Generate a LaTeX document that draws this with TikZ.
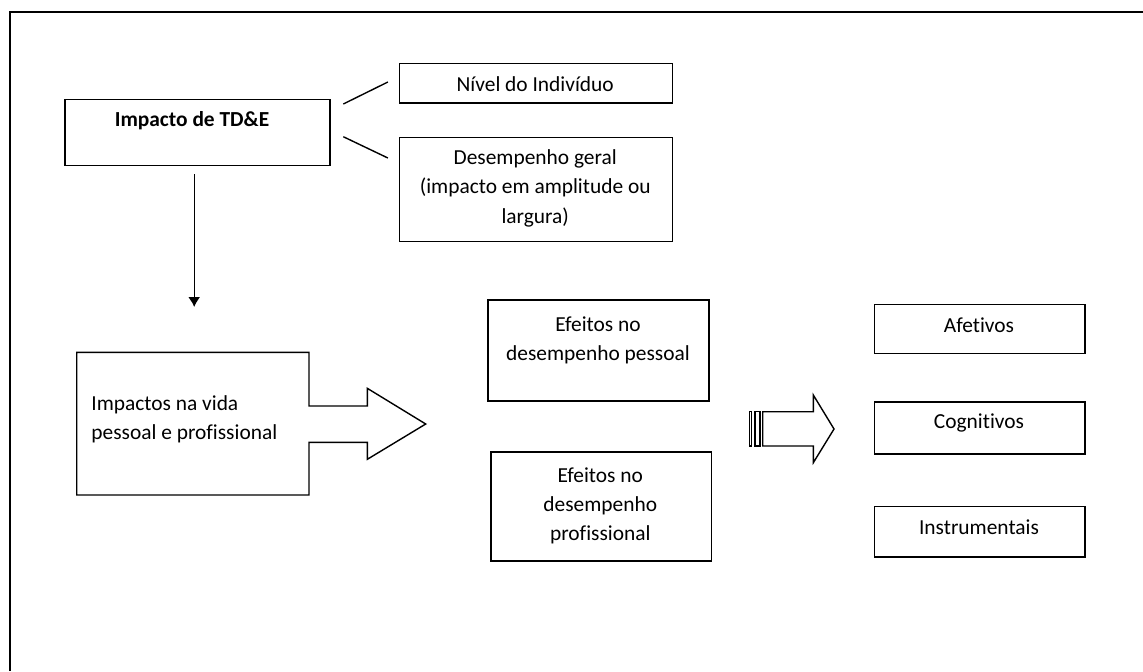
\documentclass[tikz,border=0pt]{standalone}
\usepackage{fontspec}
\setmainfont{Carlito}[Ligatures=NoCommon]
\usetikzlibrary{arrows.meta}
\begin{document}
\begin{tikzpicture}[x=0.5pt,y=-0.5pt,
  box/.style={draw, line width=0.8pt, rectangle, inner sep=0pt, anchor=north west},
  txt/.style={inner sep=0pt, align=center, font=\fontsize{10.7}{14.65}\selectfont},
  link/.style={line width=0.7pt},
  arr/.style={line width=0.7pt, -{Latex[length=5pt,width=6pt]}},
  blockarrow/.style={draw, line width=0.7pt, line join=miter}
]
\useasboundingbox (0,0) rectangle (1143,671);
\fill[white] (0,0) rectangle (1143,671);
\draw[line width=1pt] (9.5,671) -- (9.5,12.3) -- (1143,12.3);

% boxes
\node[box, minimum width=132.35pt, minimum height=32.9pt] (imp) at (64.3,98.7) {};
\node[box, minimum width=136.5pt, minimum height=19.65pt] (niv) at (398.7,62.7) {};
\node[box, minimum width=136.5pt, minimum height=52pt] (des) at (398.7,136.7) {};
\node[box, minimum width=110.35pt, minimum height=50.65pt] (efp) at (487.3,299) {};
\node[box, minimum width=110.35pt, minimum height=54.5pt] (efr) at (490,451) {};
\node[box, minimum width=105.4pt, minimum height=24.5pt] (afe) at (873.5,303.5) {};
\node[box, minimum width=105.4pt, minimum height=26.15pt] (cog) at (873.5,401) {};
\node[box, minimum width=105.4pt, minimum height=25.25pt] (ins) at (873.5,505.5) {};

% texts
\node[txt, font=\fontsize{10.7}{14.65}\selectfont\bfseries] (impT) at (192,121) {Impacto de TD\&E};
\node[txt] (nivT) at (535.2,84) {Nível do Indivíduo};
\node[txt] (desT) at (535.2,188.3) {Desempenho geral\\(impacto em amplitude ou\\largura)};
\node[txt] (efpT) at (598,340.5) {Efeitos no\\desempenho pessoal};
\node[txt] (efrT) at (600.3,506) {Efeitos no\\desempenho\\profissional};
\node[txt] (afeT) at (979,325) {Afetivos};
\node[txt] (cogT) at (979,423.3) {Cognitivos};
\node[txt] (insT) at (979,527.3) {Instrumentais};

% connectors
\coordinate (l1a) at (343.3,104);
\coordinate (l1b) at (387.9,82);
\coordinate (l2a) at (343.3,136.7);
\coordinate (l2b) at (387.9,158);
\draw[link] (l1a) -- (l1b);
\draw[link] (l2a) -- (l2b);
\coordinate (a1) at (194.2,174);
\coordinate (a2) at (194.2,307);
\draw[arr] (a1) -- (a2);

% block arrow with text
\draw[blockarrow] (76.7,352.3) -- (309,352.3) -- (309,406) -- (367.3,406) -- (367.3,388.3)
  -- (425.7,424) -- (367.3,459.3) -- (367.3,442.3) -- (309,442.3) -- (309,495)
  -- (76.7,495) -- cycle;
\node[txt, align=left, anchor=west] (vidT) at (91,419.3) {Impactos na vida\\pessoal e profissional};

% striped arrow
\draw[blockarrow] (749.3,411.7) rectangle (751.7,446);
\draw[blockarrow] (755,411.7) rectangle (760,446);
\draw[blockarrow] (762.7,411.7) -- (813.3,411.7) -- (813.3,395) -- (834,429)
  -- (813.3,462.7) -- (813.3,446) -- (762.7,446) -- cycle;
\end{tikzpicture}
\end{document}
